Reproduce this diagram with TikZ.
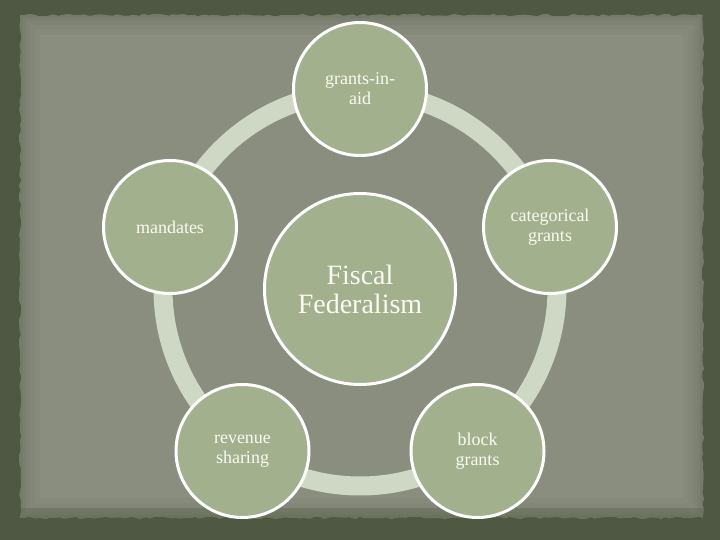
\documentclass[tikz,border=0pt]{standalone}
\usepackage{fontspec}
\setmainfont{Liberation Serif}
\usetikzlibrary{decorations.pathmorphing}
\definecolor{bgdark}{RGB}{78,88,66}
\definecolor{paper}{RGB}{138,142,127}
\definecolor{circfill}{RGB}{163,176,141}
\definecolor{ringcol}{RGB}{207,216,197}
\definecolor{txtcol}{RGB}{250,250,242}
\tikzset{
  rough/.style={decorate,decoration={random steps,segment length=5pt,amplitude=1.2pt}},
  smallc/.style={circle,draw=white,line width=3pt,fill=circfill,minimum size=133pt,inner sep=0pt,
    align=center,text=txtcol,font=\fontsize{18}{20}\selectfont},
  bigc/.style={circle,draw=white,line width=3pt,fill=circfill,minimum size=191pt,inner sep=0pt,
    align=center,text=txtcol,font=\fontsize{28}{29}\selectfont},
  ringstyle/.style={draw=ringcol,line width=19pt}
}
\begin{document}
\begin{tikzpicture}[x=1pt,y=-1pt]
\pgfmathsetseed{7}
\useasboundingbox (0,0) rectangle (720,540);
\fill[bgdark] (0,0) rectangle (720,540);
\fill[paper,rough] (20,15) rectangle (703,518);
\foreach \w/\o in {40/0.06,30/0.06,20/0.07,12/0.08,6/0.1}{
  \draw[bgdark,opacity=\o,line width=\w pt] (20,15) rectangle (703,518);
}
\fill[bgdark,opacity=0.25] (20,508) rectangle (703,520);
% ring
\coordinate (ctr) at (360,289);
\draw[ringstyle] (ctr) circle (197pt);
% nodes
\node[bigc] (ff) at (ctr) {Fiscal\\Federalism};
\node[smallc] (gia) at (360,89) {grants-in-\\aid};
\node[smallc] (cat) at (550,227) {categorical\\grants};
\node[smallc] (blk) at (477.5,451) {block\\grants};
\node[smallc] (rev) at (242.5,451) {revenue\\sharing};
\node[smallc] (man) at (170,227) {mandates};
\end{tikzpicture}
\end{document}
